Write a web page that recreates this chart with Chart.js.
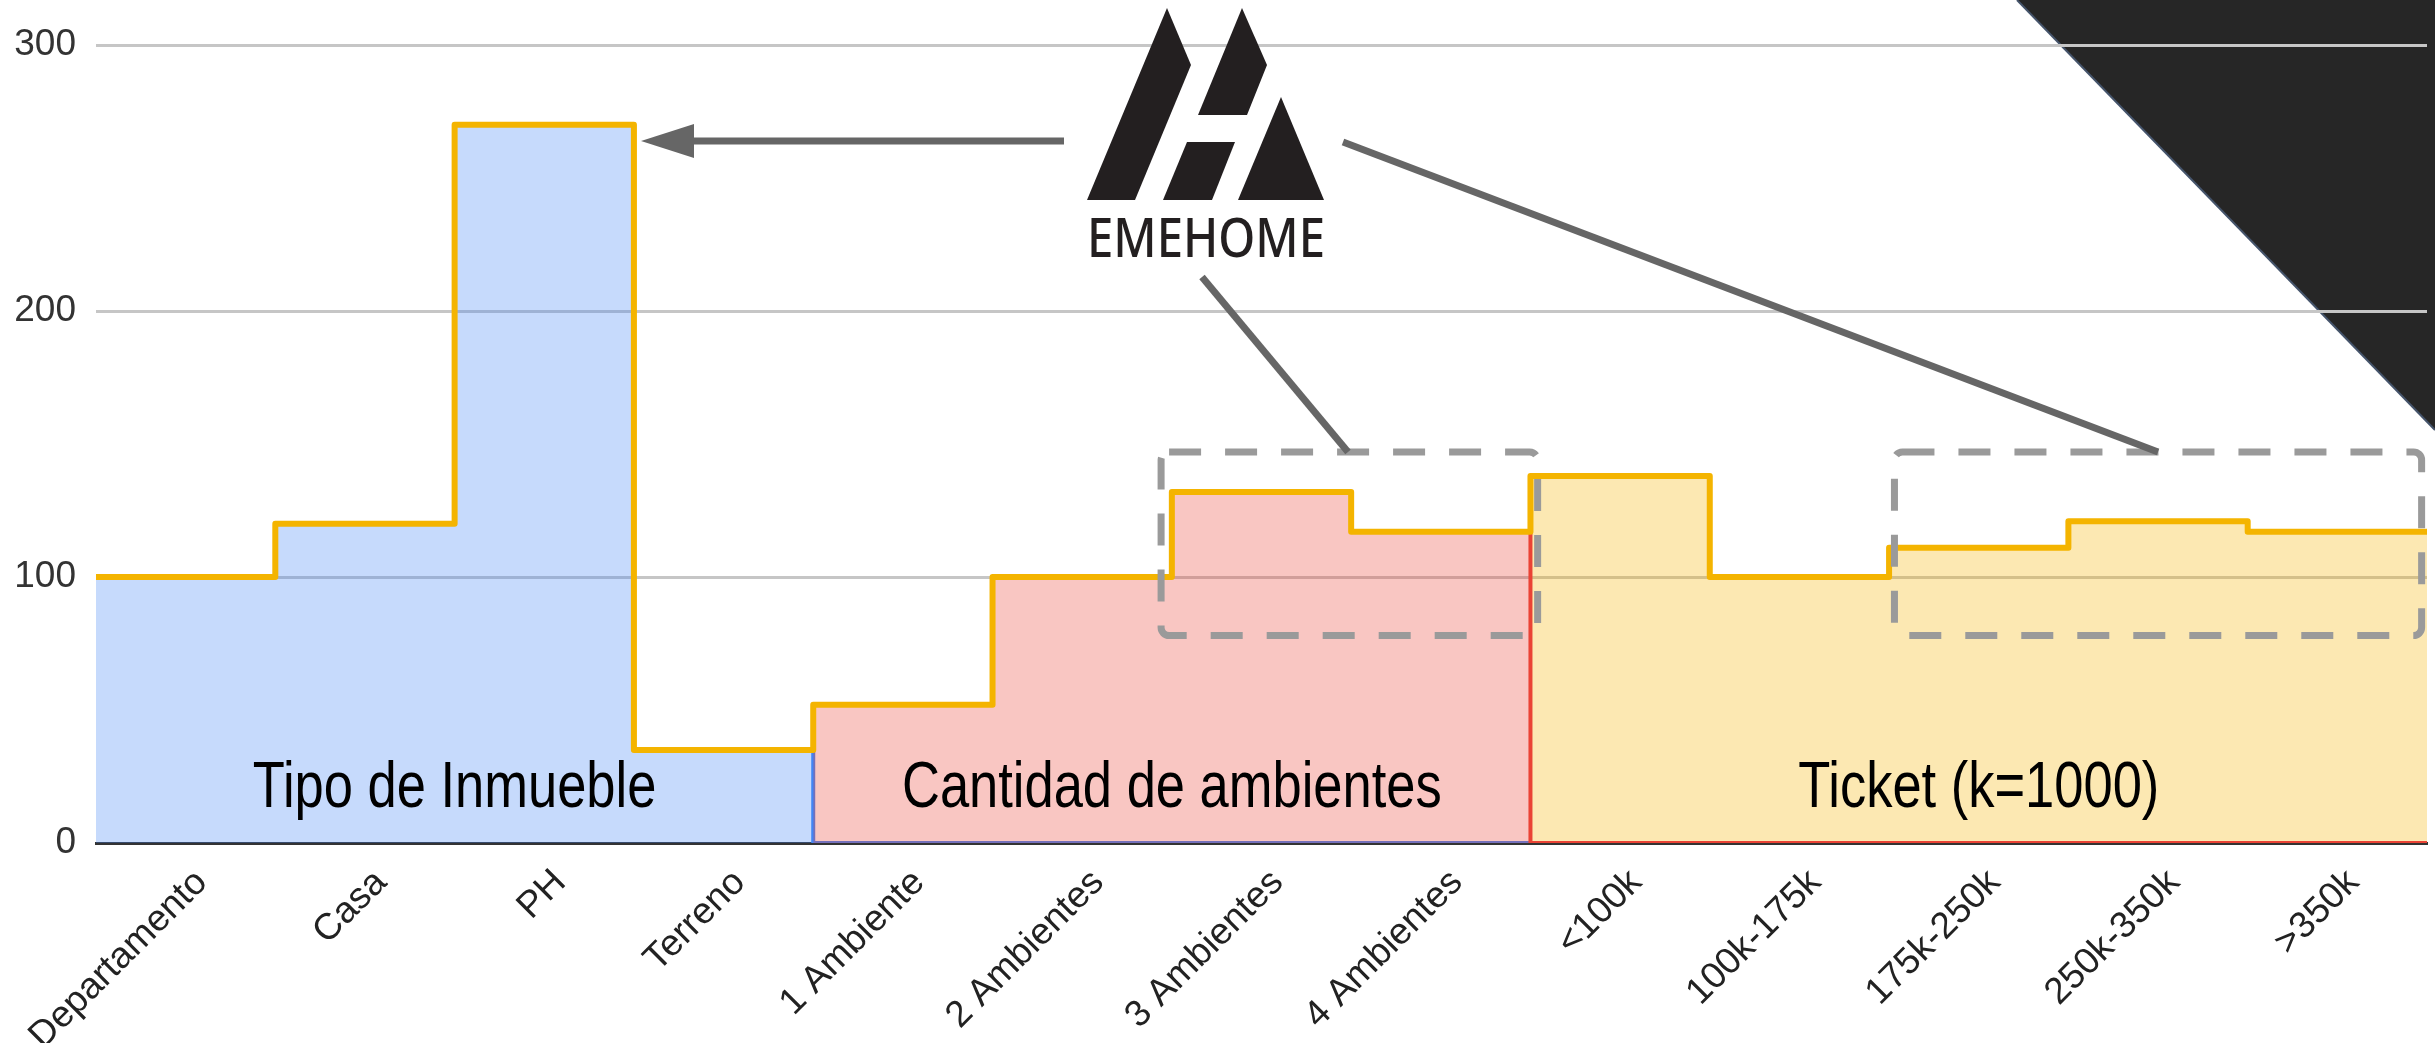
<!DOCTYPE html>
<html><head><meta charset="utf-8">
<script src="https://cdn.jsdelivr.net/npm/chart.js@4/dist/chart.umd.min.js"></script>
<style>html,body{margin:0;padding:0;background:#fff}#wrap{width:2435px;height:1043px}</style>
</head><body><div id="wrap"><canvas id="c" width="2435" height="1043"></canvas></div>
<script>
// ---- data ----
const categories = ['Departamento','Casa','PH','Terreno','1 Ambiente','2 Ambientes','3 Ambientes','4 Ambientes','<100k','100k-175k','175k-250k','250k-350k','>350k'];
const tipoInmueble = [100, 120, 270, 35];
const cantidadAmbientes = [52, 100, 132, 117];
const ticket = [138, 100, 111, 121, 117];
const groupLabels = ['Tipo de Inmueble', 'Cantidad de ambientes', 'Ticket (k=1000)'];
const yTicks = [0, 100, 200, 300];

// ---- build series ----
const groups = [tipoInmueble, cantidadAmbientes, ticket];
const groupStarts = [];
let acc = 0;
groups.forEach(g => { groupStarts.push(acc); acc += g.length; });
const N = categories.length;
function seriesPoints(gi) {
  const s = groupStarts[gi], vals = groups[gi], pts = [];
  vals.forEach((v, k) => pts.push({x: s + k, y: v}));
  if (gi < groups.length - 1) {
    for (let i = s + vals.length; i <= N; i++) pts.push({x: i, y: 0});
  } else {
    pts.push({x: N, y: vals[vals.length - 1]});
  }
  return pts;
}
const allVals = [].concat(...groups);
const linePts = allVals.map((v, i) => ({x: i, y: v})).concat([{x: N, y: allVals[N - 1]}]);

const FONT = '"Liberation Sans", Arial, sans-serif';
const STEP = 'before';

const overlay = {
  id: 'overlay',
  beforeDraw(chart) {
    const ctx = chart.ctx, W = chart.width;
    ctx.save();
    ctx.fillStyle = '#fff';
    ctx.fillRect(0, 0, W, chart.height);
    ctx.beginPath();
    ctx.moveTo(W - 418, 0); ctx.lineTo(W, 0); ctx.lineTo(W, 430); ctx.closePath();
    ctx.fillStyle = '#262626'; ctx.fill();
    ctx.beginPath(); ctx.moveTo(W - 418, 0); ctx.lineTo(W, 430);
    ctx.strokeStyle = '#45546b'; ctx.lineWidth = 2; ctx.stroke();
    ctx.restore();
  },
  afterDatasetsDraw(chart) {
    const ctx = chart.ctx, xs = chart.scales.x, ys = chart.scales.y;
    ctx.save();
    ctx.fillStyle = '#000';
    ctx.font = '64px ' + FONT;
    ctx.textAlign = 'center';
    ctx.textBaseline = 'middle';
    groupLabels.forEach((t, gi) => {
      const cx = xs.getPixelForValue(groupStarts[gi] + groups[gi].length / 2);
      const cy = ys.getPixelForValue(20);
      ctx.save();
      ctx.translate(cx, cy);
      ctx.scale(0.82, 1);
      ctx.fillText(t, 0, 0);
      ctx.restore();
    });
    ctx.restore();
  },
  afterDraw(chart) {
    const ctx = chart.ctx, xs = chart.scales.x, ys = chart.scales.y;
    ctx.save();
    // dashed highlight boxes (data coordinates)
    const boxes = [[5.94, 8.04, 78, 147], [10.03, 12.97, 78, 147]];
    ctx.strokeStyle = '#9a9a9a'; ctx.lineWidth = 7; ctx.setLineDash([32, 24]);
    boxes.forEach(b => {
      const x0 = xs.getPixelForValue(b[0]), x1 = xs.getPixelForValue(b[1]);
      const y0 = ys.getPixelForValue(b[3]), y1 = ys.getPixelForValue(b[2]);
      ctx.beginPath();
      ctx.roundRect(x0, y0, x1 - x0, y1 - y0, 8);
      ctx.stroke();
    });
    ctx.setLineDash([]);
    // pointer lines
    ctx.strokeStyle = '#666'; ctx.fillStyle = '#666'; ctx.lineWidth = 7;
    ctx.beginPath(); ctx.moveTo(1064, 141); ctx.lineTo(680, 141); ctx.stroke();
    ctx.beginPath(); ctx.moveTo(641, 141); ctx.lineTo(694, 124); ctx.lineTo(694, 158); ctx.closePath(); ctx.fill();
    ctx.beginPath(); ctx.moveTo(1343, 142); ctx.lineTo(2158, 452); ctx.stroke();
    ctx.beginPath(); ctx.moveTo(1202, 277); ctx.lineTo(1348, 452); ctx.stroke();
    // logo
    ctx.fillStyle = '#231f20';
    const polys = [
      [[1167,8],[1191,65],[1135,200],[1087,200]],
      [[1242,8],[1267,65],[1247,115],[1198,115]],
      [[1187,142],[1235,142],[1212,200],[1163,200]],
      [[1281,97],[1324,200],[1238,200]]
    ];
    polys.forEach(p => {
      ctx.beginPath(); ctx.moveTo(p[0][0], p[0][1]);
      for (let i = 1; i < p.length; i++) ctx.lineTo(p[i][0], p[i][1]);
      ctx.closePath(); ctx.fill();
    });
    ctx.font = '500 54px "Noto Sans", sans-serif';
    ctx.textBaseline = 'alphabetic'; ctx.textAlign = 'left';
    const w = ctx.measureText('EMEHOME').width;
    ctx.save();
    ctx.translate(1087, 257);
    ctx.scale(238 / w, 1);
    ctx.fillText('EMEHOME', 0, 0);
    ctx.restore();
    ctx.restore();
  }
};

new Chart(document.getElementById('c'), {
  type: 'line',
  data: {
    datasets: [
      {data: linePts, borderColor: '#f4b400', borderWidth: 6, stepped: STEP, fill: false, pointRadius: 0, borderJoinStyle: 'round', borderCapStyle: 'round', order: 0},
      {data: seriesPoints(0), borderColor: '#4285f4', backgroundColor: 'rgba(66,133,244,0.3)', fill: 'origin', borderWidth: 4, stepped: STEP, pointRadius: 0, order: 2},
      {data: seriesPoints(1), borderColor: '#ea4335', backgroundColor: 'rgba(234,67,53,0.3)', fill: 'origin', borderWidth: 4, stepped: STEP, pointRadius: 0, order: 1},
      {data: seriesPoints(2), borderColor: '#f4b400', backgroundColor: 'rgba(244,180,0,0.3)', fill: 'origin', borderWidth: 4, stepped: STEP, pointRadius: 0, order: 3}
    ]
  },
  options: {
    responsive: false,
    animation: false,
    devicePixelRatio: 1,
    layout: {padding: {top: 45, right: 8, left: 0, bottom: 0}},
    plugins: {legend: {display: false}, tooltip: {enabled: false}},
    scales: {
      x: {
        type: 'linear', min: 0, max: N,
        grid: {display: false},
        border: {display: true, color: '#333', width: 3},
        afterBuildTicks: s => { s.ticks = categories.map((c, i) => ({value: i + 0.5})); },
        ticks: {autoSkip: false, minRotation: 45, maxRotation: 45, padding: 10, labelOffset: 16, color: '#222',
          font: {family: FONT, size: 37}, callback: (v, i) => categories[i]},
        afterFit: s => { s.height = 200; s.paddingLeft = 0; s.paddingRight = 0; }
      },
      y: {
        min: 0, max: 300,
        afterBuildTicks: s => { s.ticks = yTicks.map(v => ({value: v})); },
        grid: {color: c => (c.tick && c.tick.value === 0) ? 'rgba(0,0,0,0)' : '#c6c6c6', lineWidth: 3, drawTicks: false},
        border: {display: false},
        ticks: {padding: 20, color: '#333', font: {family: FONT, size: 37}},
        afterFit: s => { s.width = 96; }
      }
    }
  },
  plugins: [overlay]
});
</script>
</body></html>
